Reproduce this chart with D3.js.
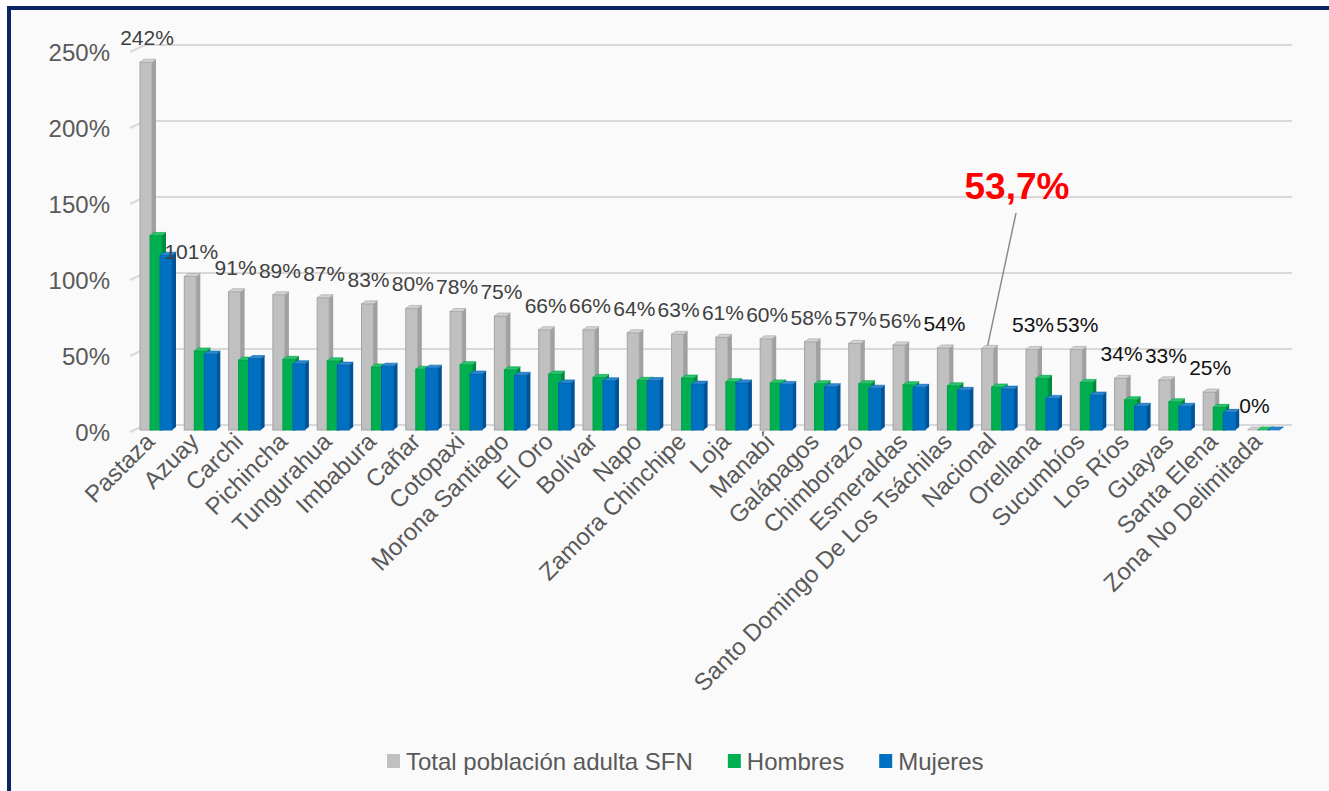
<!DOCTYPE html>
<html>
<head>
<meta charset="utf-8">
<script src="https://cdn.jsdelivr.net/npm/d3@7"></script>
<style>
  html, body { margin: 0; padding: 0; background: #ffffff; }
  svg { display: block; }
  text { font-family: Arial, "Liberation Sans", sans-serif; }
</style>
</head>
<body>
<svg id="chart" width="1329" height="791"></svg>
<script>
// Provinces (plus the national figure), in the order shown
const categories = [
  "Pastaza", "Azuay", "Carchi", "Pichincha", "Tungurahua", "Imbabura", "Cañar",
  "Cotopaxi", "Morona Santiago", "El Oro", "Bolívar", "Napo", "Zamora Chinchipe",
  "Loja", "Manabí", "Galápagos", "Chimborazo", "Esmeraldas",
  "Santo Domingo De Los Tsáchilas", "Nacional", "Orellana", "Sucumbíos",
  "Los Ríos", "Guayas", "Santa Elena", "Zona No Delimitada"
];

// Share of the adult population (percent)
const total = [242, 101, 91, 89, 87, 83, 80, 78, 75, 66, 66, 64, 63, 61, 60, 58, 57, 56, 54, 53.7, 53, 53, 34, 33, 25, 0];
const hombres = [128, 52, 46, 46.5, 45.5, 41.5, 40, 43, 39.6, 36.8, 34.6, 32.7, 34.2, 31.8, 31, 30.5, 30.5, 29.8, 29.1, 28.3, 34, 31.3, 19.9, 18.6, 14.9, 0];
const mujeres = [115, 50, 47, 43.6, 42.7, 42, 40.7, 36.8, 36, 31, 32.4, 32.5, 30.2, 31, 30, 28.5, 27.5, 28.1, 26.1, 26.9, 20.8, 23, 15.6, 15.6, 11.6, 0];

const seriesNames = ["Total población adulta SFN", "Hombres", "Mujeres"];
const yTicks = [0, 50, 100, 150, 200, 250];

// Highlighted national figure
const calloutCategory = "Nacional";
const calloutText = "53,7%";

const svg = d3.select("#chart");

// Panel with dark frame
svg.append("rect")
  .attr("x", 9).attr("y", 8)
  .attr("width", 1400).attr("height", 900)
  .attr("fill", "#fafafa")
  .attr("stroke", "#0b2466").attr("stroke-width", 4);

const baseY = 430;
const x = d3.scaleBand().domain(categories).range([140, 140 + 44.3 * categories.length]);
const y = d3.scaleLinear().domain([0, 250]).range([baseY, 50]);
const sub = d3.scalePoint().domain(seriesNames).range([0, 20]);

const depthX = 4, depthY = -3, barW = 12;
const backOff = -5;      // depth of the back wall
const wallX0 = 145, wallX1 = 1292, frontX0 = 130;

// Gridlines on the back wall with depth stubs on the left
const grid = svg.append("g");
yTicks.forEach(t => {
  const yy = y(t) + backOff;
  grid.append("line")
    .attr("x1", wallX0).attr("x2", wallX1)
    .attr("y1", yy).attr("y2", yy)
    .attr("stroke", "#d9d9d9").attr("stroke-width", 2);
  grid.append("line")
    .attr("x1", frontX0).attr("y1", y(t) + 2)
    .attr("x2", wallX0).attr("y2", yy)
    .attr("stroke", "#d9d9d9").attr("stroke-width", 2);
});

// Y axis labels
const yAxis = d3.axisLeft(y).tickValues(yTicks).tickFormat(d => d + "%").tickSize(0).tickPadding(0);
const yg = svg.append("g").attr("transform", "translate(110,3)").call(yAxis);
yg.select(".domain").remove();
yg.selectAll("text")
  .attr("font-size", 24).attr("fill", "#595959")
  .attr("font-family", "Arial, 'Liberation Sans', sans-serif");

const styles = {
  "Total población adulta SFN": { front: "#c0c0c0", stroke: "#a3a3a3", side: "#a0a0a0", top: "#d2d2d2" },
  "Hombres": { front: "#00b050", stroke: "#00a048", side: "#008a3c", top: "#2cc46c" },
  "Mujeres": { front: "#0070c0", stroke: "#0064ae", side: "#00539a", top: "#3088d0" }
};

const rows = categories.map((c, i) => ({ cat: c, vals: [total[i], hombres[i], mujeres[i]] }));

const bars = svg.append("g");
rows.forEach(r => {
  seriesNames.forEach((s, k) => {
    const v = r.vals[k];
    const st = styles[s];
    const x0 = x(r.cat) + sub(s);
    const yt = y(v);
    const g = bars.append("g");
    // side face
    g.append("polygon")
      .attr("points", [[x0 + barW, yt], [x0 + barW + depthX, yt + depthY], [x0 + barW + depthX, baseY + depthY], [x0 + barW, baseY]].join(" "))
      .attr("fill", st.side);
    // front face
    g.append("rect")
      .attr("x", x0).attr("y", yt)
      .attr("width", barW).attr("height", Math.max(0, baseY - yt))
      .attr("fill", st.front)
      .attr("stroke", st.stroke).attr("stroke-width", 1);
    // top face
    g.append("polygon")
      .attr("points", [[x0, yt], [x0 + depthX, yt + depthY], [x0 + barW + depthX, yt + depthY], [x0 + barW, yt]].join(" "))
      .attr("fill", st.top)
      .attr("stroke", st.stroke).attr("stroke-width", 0.6);
  });
});

// Value labels for the total series (national value uses the callout instead)
svg.append("g").selectAll("text")
  .data(rows.filter(r => r.cat !== calloutCategory))
  .join("text")
  .attr("x", d => x(d.cat) + sub(seriesNames[0]) + 7)
  .attr("y", d => y(d.vals[0]) - 17)
  .attr("text-anchor", "middle")
  .attr("font-size", 21)
  .attr("fill", d => categories.indexOf(d.cat) >= 18 ? "#111111" : "#404040")
  .text(d => d3.format(".0f")(d.vals[0]) + "%");

// Category labels, rotated
svg.append("g").selectAll("text")
  .data(categories)
  .join("text")
  .attr("transform", d => `translate(${x(d) + 16},${443}) rotate(-45)`)
  .attr("text-anchor", "end")
  .attr("font-size", 24)
  .attr("fill", "#595959")
  .text(d => d);

// Callout for the national figure
const nat = rows.find(r => r.cat === calloutCategory);
const natX = x(nat.cat) + sub(seriesNames[0]) + 6;
svg.append("line")
  .attr("x1", 1016).attr("y1", 213)
  .attr("x2", natX).attr("y2", y(nat.vals[0]) + depthY)
  .attr("stroke", "#8c8c8c").attr("stroke-width", 1.5);
svg.append("text")
  .attr("x", 1017).attr("y", 199)
  .attr("text-anchor", "middle")
  .attr("font-size", 37).attr("font-weight", "bold")
  .attr("fill", "#ff0000")
  .text(calloutText);

// Legend
const legend = svg.append("g");
let lx = 387;
seriesNames.forEach(s => {
  legend.append("rect")
    .attr("x", lx).attr("y", 754).attr("width", 13).attr("height", 14)
    .attr("fill", styles[s].front);
  const t = legend.append("text")
    .attr("x", lx + 19).attr("y", 770)
    .attr("font-size", 24).attr("fill", "#595959")
    .text(s);
  lx += 19 + t.node().getComputedTextLength() + 35;
});
</script>
</body>
</html>
